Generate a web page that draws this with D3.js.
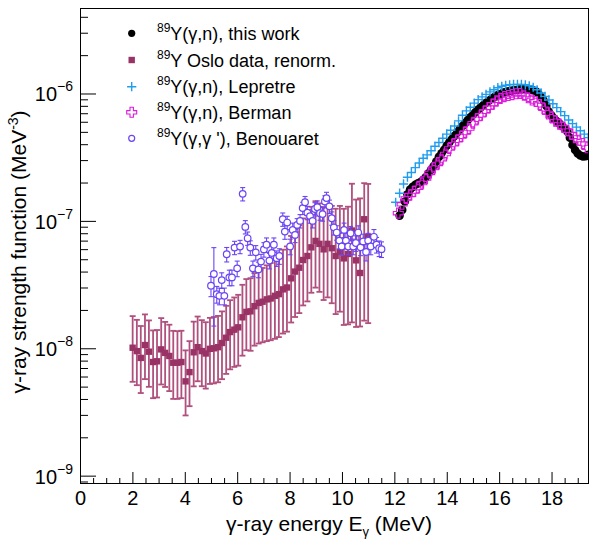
<!DOCTYPE html>
<html>
<head>
<meta charset="utf-8">
<script src="https://cdn.jsdelivr.net/npm/d3@7"></script>
<style>
  body { margin: 0; background: #fff; }
  text { font-family: "Liberation Sans", Arial, Helvetica, sans-serif; fill: #000; }
</style>
</head>
<body>
<svg id="chart" width="591" height="540"></svg>
<script>
// ---- axis ranges and ticks ----
const xDomain = [0, 19.43];
const yDomain = [8.6e-10, 4.69e-6];
const xMajorTicks = [0, 2, 4, 6, 8, 10, 12, 14, 16, 18];
const yMajorExp = [-9, -8, -7, -6];

// ---- 89Y(γ,n), this work ----
const workE = [12.2,12.3,12.4,12.5,12.6,12.7,12.8,12.9,13.0,13.1,13.2,13.3,13.4,13.5,13.6,13.7,13.8,13.9,14.0,14.1,
  14.2,14.3,14.4,14.5,14.6,14.7,14.8,14.9,15.0,15.1,15.2,15.3,15.4,15.5,15.6,15.7,15.8,15.9,16.0,16.1,
  16.2,16.3,16.4,16.5,16.6,16.7,16.8,16.9,17.0,17.1,17.2,17.3,17.4,17.5,17.6,17.7,17.8,17.9,18.0,18.1,
  18.2,18.3,18.4,18.5,18.6,18.7,18.8,18.9,19.0,19.1,19.2,19.3,19.4];
const workS = [1.10e-7,1.22e-7,1.42e-7,1.62e-7,1.76e-7,1.85e-7,1.92e-7,1.97e-7,2.02e-7,2.10e-7,
  2.20e-7,2.35e-7,2.52e-7,2.70e-7,2.92e-7,3.18e-7,3.40e-7,3.62e-7,3.90e-7,4.15e-7,
  4.40e-7,4.65e-7,4.95e-7,5.25e-7,5.55e-7,5.85e-7,6.18e-7,6.50e-7,6.82e-7,7.15e-7,
  7.48e-7,7.80e-7,8.12e-7,8.45e-7,8.75e-7,9.05e-7,9.32e-7,9.60e-7,9.85e-7,1.00e-6,
  1.02e-6,1.035e-6,1.045e-6,1.055e-6,1.065e-6,1.07e-6,1.075e-6,1.08e-6,1.08e-6,1.08e-6,
  1.075e-6,1.06e-6,1.04e-6,1.00e-6,9.4e-7,8.8e-7,8.0e-7,7.2e-7,6.7e-7,6.35e-7,
  6.05e-7,5.8e-7,5.55e-7,5.3e-7,5.05e-7,4.5e-7,3.95e-7,3.6e-7,3.38e-7,3.26e-7,
  3.2e-7,3.22e-7,3.3e-7];

// ---- 89Y Oslo data, renormalised (asymmetric relative errors) ----
const osloE = [2.01,2.17,2.32,2.48,2.63,2.79,2.94,3.10,3.25,3.41,3.56,3.72,3.87,4.03,4.18,4.34,4.49,4.65,4.80,4.96,
  5.11,5.27,5.42,5.58,5.73,5.89,6.04,6.20,6.35,6.51,6.66,6.82,6.97,7.13,7.28,7.44,7.59,7.75,7.90,8.06,
  8.21,8.37,8.52,8.68,8.83,8.99,9.14,9.30,9.45,9.61,9.76,9.92,10.07,10.23,10.38,10.54,10.69,10.85,11.00];
const osloS = [1.01e-8,9.5e-9,8.4e-9,1.06e-8,9.4e-9,7.8e-9,7.9e-9,9.8e-9,9.2e-9,8.7e-9,
  7.7e-9,7.7e-9,7.8e-9,5.5e-9,6.5e-9,9.3e-9,1.02e-8,9.5e-9,9.1e-9,9.9e-9,
  1.0e-8,1.02e-8,1.1e-8,1.21e-8,1.34e-8,1.40e-8,1.46e-8,1.75e-8,1.93e-8,1.95e-8,
  2.14e-8,2.27e-8,2.32e-8,2.42e-8,2.46e-8,2.58e-8,2.66e-8,2.90e-8,3.0e-8,3.54e-8,
  4.0e-8,4.29e-8,4.93e-8,5.3e-8,6.2e-8,6.96e-8,6.6e-8,5.98e-8,6.6e-8,6.1e-8,
  5.3e-8,5.7e-8,5.08e-8,5.5e-8,8.4e-8,4.9e-8,3.9e-8,1.03e-7,7.5e-8];
const osloUp = [0.77,0.76,0.78,0.74,0.76,0.77,0.76,0.76,0.75,0.76,0.78,0.77,0.76,0.75,0.75,0.74,0.74,0.75,0.76,0.75,
  0.76,0.76,0.77,0.78,0.78,0.79,0.80,0.80,0.81,0.82,0.82,0.83,0.84,0.85,0.90,0.95,1.00,1.05,1.10,1.15,
  1.15,1.15,1.12,1.10,1.08,1.05,1.08,1.15,1.05,1.15,1.35,1.30,1.45,1.35,1.33,2.00,2.85,0.92,1.60];
const osloDn = [0.46,0.46,0.47,0.46,0.47,0.48,0.48,0.47,0.46,0.47,0.48,0.48,0.48,0.46,0.46,0.46,0.46,0.47,0.47,0.47,
  0.47,0.47,0.48,0.48,0.49,0.49,0.50,0.50,0.50,0.51,0.51,0.52,0.52,0.53,0.53,0.54,0.54,0.55,0.55,0.55,
  0.56,0.56,0.56,0.56,0.56,0.57,0.58,0.60,0.62,0.63,0.65,0.66,0.70,0.72,0.81,0.70,0.62,0.84,0.79];

// ---- 89Y(γ,n), Lepretre ----
const lepE = [12.05,12.2,12.35,12.5,12.65,12.8,12.95,13.1,13.25,13.4,13.55,13.7,13.85,14.0,14.15,14.3,14.45,14.6,14.75,14.9,
  15.05,15.2,15.35,15.5,15.65,15.8,15.95,16.1,16.25,16.4,16.55,16.7,16.85,17.0,17.15,17.3,17.45,17.6,17.75,17.9,
  18.05,18.2,18.35,18.5,18.65,18.8,18.95,19.1,19.25,19.4];
const lepS = [1.40e-7,1.65e-7,1.95e-7,2.20e-7,2.40e-7,2.62e-7,2.85e-7,3.10e-7,3.30e-7,3.55e-7,
  3.85e-7,4.12e-7,4.45e-7,4.80e-7,5.15e-7,5.55e-7,6.10e-7,6.75e-7,7.30e-7,7.80e-7,
  8.40e-7,8.95e-7,9.40e-7,9.85e-7,1.03e-6,1.07e-6,1.11e-6,1.14e-6,1.16e-6,1.17e-6,
  1.18e-6,1.18e-6,1.18e-6,1.17e-6,1.15e-6,1.12e-6,1.07e-6,1.01e-6,9.5e-7,8.9e-7,
  8.3e-7,7.75e-7,7.2e-7,6.7e-7,6.2e-7,5.8e-7,5.45e-7,5.1e-7,4.8e-7,4.5e-7];

// ---- 89Y(γ,n), Berman ----
const berE = [12.15,12.3,12.45,12.6,12.75,12.9,13.05,13.2,13.35,13.5,13.65,13.8,13.95,14.1,14.25,14.4,14.55,14.7,14.85,15.0,
  15.15,15.3,15.45,15.6,15.75,15.9,16.05,16.2,16.35,16.5,16.65,16.8,16.95,17.1,17.25,17.4,17.55,17.7,17.85,18.0,
  18.15,18.3,18.45,18.6,18.75,18.9,19.05,19.2,19.35];
const berS = [1.15e-7,1.35e-7,1.50e-7,1.60e-7,1.70e-7,1.82e-7,1.98e-7,2.15e-7,2.38e-7,2.60e-7,
  2.80e-7,3.05e-7,3.35e-7,3.70e-7,4.00e-7,4.30e-7,4.60e-7,4.95e-7,5.30e-7,5.85e-7,
  6.30e-7,6.75e-7,7.25e-7,7.75e-7,8.25e-7,8.75e-7,9.15e-7,9.45e-7,9.65e-7,9.80e-7,
  9.95e-7,1.0e-6,9.7e-7,9.25e-7,8.9e-7,8.65e-7,8.2e-7,7.6e-7,7.05e-7,6.5e-7,
  6.05e-7,5.75e-7,5.45e-7,5.1e-7,4.8e-7,4.5e-7,4.3e-7,4.05e-7,3.75e-7];

// ---- 89Y(γ,γ'), Benouaret (relative errors) ----
const benE = [5.00,5.11,5.22,5.32,5.41,5.51,5.60,5.70,5.80,5.90,6.00,6.11,6.21,6.31,6.40,6.50,6.60,6.71,6.81,6.91,
  7.02,7.12,7.23,7.32,7.40,7.51,7.61,7.74,7.82,7.91,8.02,8.12,8.21,8.29,8.40,8.50,8.59,8.68,8.78,8.88,
  8.97,9.06,9.16,9.26,9.35,9.41,9.52,9.61,9.69,9.80,9.90,9.99,10.08,10.15,10.24,10.33,10.43,10.53,10.62,10.71,
  10.81,10.92,11.00,11.10,11.22,11.32,11.42,11.51];
const benS = [3.1e-8,3.83e-8,2.66e-8,2.58e-8,3.43e-8,2.58e-8,5.47e-8,3.6e-8,3.6e-8,6.17e-8,
  4.24e-8,6.28e-8,1.63e-7,8.97e-8,7.3e-8,6.17e-8,4.24e-8,5.66e-8,4.16e-8,4.79e-8,
  5.97e-8,6.5e-8,4.88e-8,5.6e-8,6.5e-8,5.1e-8,5.3e-8,1.03e-7,8.24e-8,9.7e-8,
  6.3e-8,8.5e-8,7.76e-8,9.3e-8,1.0e-7,1.26e-7,1.40e-7,1.16e-7,1.09e-7,1.0e-7,
  1.24e-7,1.28e-7,1.15e-7,1.13e-7,1.42e-7,1.51e-7,1.3e-7,1.05e-7,8.9e-8,8.1e-8,
  7.0e-8,6.3e-8,8.5e-8,7.0e-8,6.3e-8,8.0e-8,6.3e-8,6.7e-8,8.1e-8,6.2e-8,
  6.9e-8,5.7e-8,7.0e-8,6.3e-8,7.5e-8,6.5e-8,6.1e-8,6.0e-8];
const benErr = [0.18,0.61,0.15,0.15,0.14,0.15,0.13,0.14,0.14,0.12,0.14,0.12,0.12,0.12,0.12,0.13,0.14,0.13,0.14,0.14,
  0.13,0.13,0.14,0.13,0.13,0.14,0.14,0.12,0.13,0.12,0.14,0.13,0.13,0.12,0.12,0.11,0.11,0.12,0.12,0.12,
  0.12,0.12,0.12,0.12,0.11,0.11,0.12,0.12,0.13,0.13,0.14,0.14,0.13,0.14,0.14,0.13,0.14,0.14,0.13,0.14,
  0.14,0.15,0.14,0.14,0.14,0.14,0.14,0.14];

// ---- legend ----
const legendLabels = [
  ["89", "Y(γ,n), this work"],
  ["89", "Y Oslo data, renorm."],
  ["89", "Y(γ,n), Lepretre"],
  ["89", "Y(γ,n), Berman"],
  ["89", "Y(γ,γ '), Benouaret"]
];

// ---- colours ----
const cWork = "#000000", cOslo = "#993366", cOsloBar = "#b0507e",
      cLep = "#1f9ef0", cBer = "#dd1add", cBen = "#6b45f5";

const svg = d3.select("#chart");
const F = { l: 80, r: 589, t: 8, b: 484 };
const x = d3.scaleLinear().domain(xDomain).range([F.l, F.r]);
const y = d3.scaleLog().domain(yDomain).range([F.b, F.t]);

svg.append("defs").append("clipPath").attr("id", "plotClip")
  .append("rect").attr("x", F.l).attr("y", F.t).attr("width", F.r - F.l).attr("height", F.b - F.t);
const plot = svg.append("g").attr("clip-path", "url(#plotClip)");

// ---- marker shapes ----
function plusPath(h) { return `M${-h},0H${h}M0,${-h}V${h}`; }
function openCrossPath(h, a) {
  return `M${-a},${-h}H${a}V${-a}H${h}V${a}H${a}V${h}H${-a}V${a}H${-h}V${-a}H${-a}Z`;
}

// this work: dense filled circles
plot.append("g").selectAll("circle").data(workE).join("circle")
  .attr("cx", (d) => x(d)).attr("cy", (d, i) => y(workS[i])).attr("r", 4.3)
  .attr("fill", cWork);

// Lepretre: plus markers
plot.append("g").selectAll("path").data(lepE).join("path")
  .attr("transform", (d, i) => `translate(${x(d)},${y(lepS[i])})`)
  .attr("d", plusPath(4.6)).attr("stroke", cLep).attr("stroke-width", 1.4).attr("fill", "none");

// Berman: open crosses
plot.append("g").selectAll("path").data(berE).join("path")
  .attr("transform", (d, i) => `translate(${x(d)},${y(berS[i])})`)
  .attr("d", openCrossPath(5, 1.7)).attr("stroke", cBer).attr("stroke-width", 1.1).attr("fill", "none");

// Oslo: asymmetric error bars with end caps, then squares
const oslo = plot.append("g");
osloE.forEach((e, i) => {
  const xc = x(e), v = osloS[i];
  const yTop = y(v * (1 + osloUp[i])), yBot = y(v * (1 - osloDn[i]));
  const g = oslo.append("g").attr("stroke", cOsloBar).attr("stroke-width", 1.8);
  g.append("line").attr("x1", xc).attr("x2", xc).attr("y1", yTop).attr("y2", yBot);
  g.append("line").attr("x1", xc - 3).attr("x2", xc + 3).attr("y1", yTop).attr("y2", yTop);
  g.append("line").attr("x1", xc - 3).attr("x2", xc + 3).attr("y1", yBot).attr("y2", yBot);
});
oslo.append("g").selectAll("rect").data(osloE).join("rect")
  .attr("x", (d) => x(d) - 3.2).attr("y", (d, i) => y(osloS[i]) - 3.2)
  .attr("width", 6.4).attr("height", 6.4).attr("fill", cOslo);

// Benouaret: error bars and open circles
const ben = plot.append("g");
benE.forEach((e, i) => {
  const xc = x(e), v = benS[i], dv = v * benErr[i];
  const yTop = y(v + dv), yBot = y(v - dv);
  const g = ben.append("g").attr("stroke", cBen).attr("stroke-width", 1.1);
  g.append("line").attr("x1", xc).attr("x2", xc).attr("y1", yTop).attr("y2", yBot);
  g.append("line").attr("x1", xc - 2.5).attr("x2", xc + 2.5).attr("y1", yTop).attr("y2", yTop);
  g.append("line").attr("x1", xc - 2.5).attr("x2", xc + 2.5).attr("y1", yBot).attr("y2", yBot);
});
ben.append("g").selectAll("circle").data(benE).join("circle")
  .attr("cx", (d) => x(d)).attr("cy", (d, i) => y(benS[i])).attr("r", 3.3)
  .attr("fill", "#fff").attr("stroke", cBen).attr("stroke-width", 1.2);

// ---- axes ----
const xMinor = d3.range(0, 19.5, 0.5).filter((v) => !xMajorTicks.includes(v));
const yMinor = [];
[-10, -9, -8, -7, -6].forEach((p) => { for (let k = 2; k <= 9; k++) {
  const v = k * Math.pow(10, p);
  if (v >= yDomain[0] && v <= yDomain[1]) yMinor.push(v);
} });
const yMajor = yMajorExp.map((p) => Math.pow(10, p));

function styleAxis(g) {
  g.select(".domain").remove();
  g.selectAll("line").attr("stroke", "#000").attr("stroke-width", 1);
}
svg.append("g").attr("transform", `translate(0,${F.b})`)
  .call(d3.axisBottom(x).tickValues(xMinor).tickSize(-6).tickFormat(""))
  .call(styleAxis);
svg.append("g").attr("transform", `translate(0,${F.b})`)
  .call(d3.axisBottom(x).tickValues(xMajorTicks).tickSize(-12).tickPadding(8).tickFormat(d3.format("d")))
  .call(styleAxis)
  .call((g) => g.selectAll("text").attr("font-size", 20).attr("y", 6.5).attr("dy", "0.72em")
    .style("font-family", '"Liberation Sans", Arial, sans-serif').attr("fill", "#000"));

svg.append("g").attr("transform", `translate(${F.l},0)`)
  .call(d3.axisLeft(y).tickValues(yMinor).tickSize(-8).tickFormat(""))
  .call(styleAxis);
const yAx = svg.append("g").attr("transform", `translate(${F.l},0)`)
  .call(d3.axisLeft(y).tickValues(yMajor).tickSize(-16).tickFormat(""))
  .call(styleAxis);
yAx.selectAll(".tick").each(function (d) {
  const t = d3.select(this).append("text").attr("x", -7).attr("y", 7.5)
    .attr("text-anchor", "end").attr("font-size", 20)
    .style("font-family", '"Liberation Sans", Arial, sans-serif');
  t.append("tspan").text("10");
  t.append("tspan").attr("dy", -10).attr("font-size", 14).text("\u2212" + Math.abs(Math.round(Math.log10(d))));
});

// frame
svg.append("rect").attr("x", F.l + 0.5).attr("y", F.t + 0.5)
  .attr("width", F.r - F.l - 1).attr("height", F.b - F.t - 1)
  .attr("fill", "none").attr("stroke", "#000").attr("stroke-width", 1);

// axis titles
const xt = svg.append("text").attr("x", 329).attr("y", 531).attr("text-anchor", "middle").attr("font-size", 21);
xt.append("tspan").text("γ-ray energy E");
xt.append("tspan").attr("dy", 5).attr("font-size", 13).text("γ");
xt.append("tspan").attr("dy", -5).text(" (MeV)");

const yt = svg.append("text").attr("transform", "translate(26,252) rotate(-90)")
  .attr("text-anchor", "middle").attr("font-size", 21);
yt.append("tspan").text("γ-ray strength function (MeV");
yt.append("tspan").attr("dy", -8).attr("font-size", 14).text("-3");
yt.append("tspan").attr("dy", 8).text(")");

// ---- legend ----
const legY = [33.3, 60, 86.7, 112.3, 138.3];
const legX = 131.7;
const leg = svg.append("g");
leg.append("circle").attr("cx", legX).attr("cy", legY[0]).attr("r", 3.6).attr("fill", cWork);
leg.append("rect").attr("x", legX - 3.2).attr("y", legY[1] - 3.2).attr("width", 6.4).attr("height", 6.4).attr("fill", cOslo);
leg.append("path").attr("transform", `translate(${legX},${legY[2]})`).attr("d", plusPath(4.6))
  .attr("stroke", cLep).attr("stroke-width", 1.4).attr("fill", "none");
leg.append("path").attr("transform", `translate(${legX},${legY[3]})`).attr("d", openCrossPath(5, 1.7))
  .attr("stroke", cBer).attr("stroke-width", 1.1).attr("fill", "none");
leg.append("circle").attr("cx", legX).attr("cy", legY[4]).attr("r", 3.0)
  .attr("fill", "#fff").attr("stroke", cBen).attr("stroke-width", 1.2);
legendLabels.forEach((lab, i) => {
  const t = leg.append("text").attr("x", 157).attr("y", legY[i] + 6.5).attr("font-size", 18);
  t.append("tspan").attr("dy", -8).attr("font-size", 12).text(lab[0]);
  t.append("tspan").attr("dy", 8).text(lab[1]);
});
</script>
</body>
</html>
